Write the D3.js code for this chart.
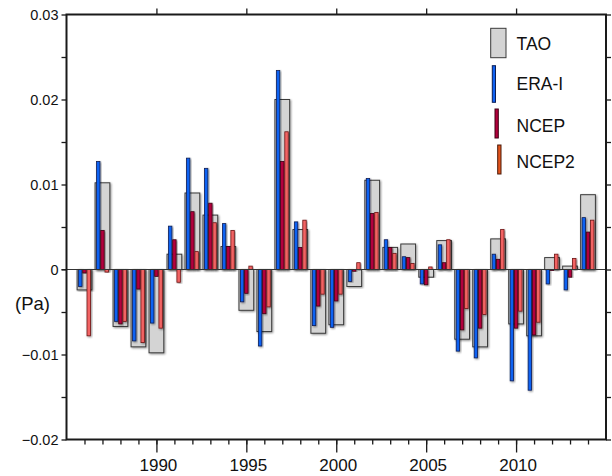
<!DOCTYPE html>
<html><head><meta charset="utf-8">
<script src="https://cdn.jsdelivr.net/npm/d3@7"></script>
<style>
html,body{margin:0;padding:0;background:#fff;}
svg{display:block;font-family:"Liberation Sans",Arial,sans-serif;}
</style></head>
<body>
<svg id="chart" width="612" height="476"></svg>
<script>
const years = d3.range(1986, 2015);
const tao   = [-0.0024,0.0102,-0.0067,-0.0091,-0.0098,0.0018,0.0090,0.0064,0.0027,-0.0048,-0.0073,0.0200,0.0047,-0.0075,-0.0065,-0.0020,0.0105,0.0026,0.0030,-0.0009,0.0034,-0.0082,-0.0091,0.0036,-0.0064,-0.0078,0.0014,0.0004,0.0088];
const erai  = [-0.0020,0.0127,-0.0061,-0.0084,-0.0063,0.0051,0.0131,0.0119,0.0054,-0.0038,-0.0090,0.0234,0.0056,-0.0066,-0.0068,-0.0014,0.0107,0.0035,0.0015,-0.0017,0.0029,-0.0096,-0.0104,0.0018,-0.0131,-0.0142,-0.0017,-0.0024,0.0061];
const ncep  = [-0.0004,0.0046,-0.0064,-0.0023,-0.0008,0.0035,0.0068,0.0078,0.0027,-0.0028,-0.0052,0.0127,0.0026,-0.0043,-0.0037,-0.0002,0.0066,0.0026,0.0014,-0.0018,0.0008,-0.0071,-0.0069,0.0012,-0.0069,-0.0077,-0.0001,-0.0009,0.0044];
const ncep2 = [-0.0078,-0.0003,-0.0061,-0.0086,-0.0069,-0.0015,0.0021,0.0055,0.0046,0.0004,-0.0044,0.0162,0.0058,-0.0029,-0.0029,0.0008,0.0067,0.0019,0.0007,0.0003,0.0035,-0.0046,-0.0053,0.0047,-0.0049,-0.0062,0.0018,0.0013,0.0058];
const xMajorTicks = [1990, 1995, 2000, 2005, 2010];
const yLabelTicks = [-0.02, -0.01, 0, 0.01, 0.02, 0.03];
const legendLabels = ["TAO", "ERA-I", "NCEP", "NCEP2"];

const svg = d3.select("#chart");
const L = 66.5, R = 606, T = 14.5, B = 439.5;
const x = d3.scaleLinear().domain([1985, 2015]).range([L, R]);
const y = d3.scaleLinear().domain([-0.02, 0.03]).range([B, T]);

const defs = svg.append("defs");
const f = defs.append("filter").attr("id","sh").attr("x","-50%").attr("y","-10%").attr("width","200%").attr("height","120%");
f.append("feGaussianBlur").attr("in","SourceAlpha").attr("stdDeviation",0.9).attr("result","b");
f.append("feOffset").attr("in","b").attr("dx",0.8).attr("dy",0.8).attr("result","o");
f.append("feComponentTransfer").attr("in","o").attr("result","o2").append("feFuncA").attr("type","linear").attr("slope",0.45);
const m = f.append("feMerge"); m.append("feMergeNode").attr("in","o2"); m.append("feMergeNode").attr("in","SourceGraphic");

function barRect(g, vals, off, w, fill, stroke, sw){
  g.selectAll(null).data(years.map((yr,i)=>({yr, v:vals[i]}))).enter().append("rect")
    .attr("x", d => x(d.yr + off - w/2))
    .attr("width", d => x(d.yr + off + w/2) - x(d.yr + off - w/2))
    .attr("y", d => y(Math.max(0, d.v)))
    .attr("height", d => Math.abs(y(d.v) - y(0)))
    .attr("fill", fill).attr("stroke", stroke).attr("stroke-width", sw)
    .attr("filter","url(#sh)");
}
const bars = svg.append("g");
barRect(bars, tao, 0, 0.82, "#d4d4d4", "#3a3a3a", 1);
barRect(bars, erai, -0.235, 0.19, "#0f62f2", "#0b1d55", 0.8);
barRect(bars, ncep, 0, 0.19, "#b2003c", "#3d0012", 0.8);
barRect(bars, ncep2, 0.235, 0.19, "#f26464", "#6e1414", 0.8);

// zero line
svg.append("line").attr("x1", L-5).attr("x2", R).attr("y1", y(0)).attr("y2", y(0))
  .attr("stroke","#333").attr("stroke-width",1.2);

// axes
const axisCol = "#1a1a1a";
const gL = svg.append("g").attr("transform",`translate(${L},0)`)
  .call(d3.axisLeft(y).tickValues(d3.range(-0.02, 0.0301, 0.005)).tickSize(5)
    .tickFormat(d => yLabelTicks.some(t => Math.abs(t-d)<1e-9) ? (Math.abs(d)<1e-9 ? "0" : d3.format(".2f")(d)) : ""));
gL.selectAll("text").attr("font-size",14.5).attr("x",-8);
const gR = svg.append("g").attr("transform",`translate(${R},0)`)
  .call(d3.axisRight(y).tickValues(d3.range(-0.02, 0.0301, 0.005)).tickSize(5).tickFormat(""));
const gB = svg.append("g").attr("transform",`translate(0,${B})`)
  .call(d3.axisBottom(x).tickValues(d3.range(1986, 2015)).tickSize(5).tickFormat(""));
const gB2 = svg.append("g").attr("transform",`translate(0,${B})`)
  .call(d3.axisBottom(x).tickValues(xMajorTicks).tickSize(13).tickPadding(6).tickFormat(d3.format("d")));
gB2.selectAll("text").attr("font-size",17).attr("dx",1.5);
const gT = svg.append("g").attr("transform",`translate(0,${T})`)
  .call(d3.axisTop(x).tickValues(xMajorTicks).tickSize(6).tickFormat(""));
[gL,gR,gB,gB2,gT].forEach(g=>{
  g.select(".domain").remove();
  g.selectAll("line").attr("stroke",axisCol).attr("stroke-width",1.3);
  g.selectAll("text").attr("fill","#111").attr("font-family","'Liberation Sans',Arial,sans-serif");
});
// frame
svg.append("rect").attr("x",L).attr("y",T).attr("width",R-L).attr("height",B-T)
  .attr("fill","none").attr("stroke",axisCol).attr("stroke-width",2);

svg.append("text").attr("x",15).attr("y",310).attr("font-size",18.5).attr("fill","#111").text("(Pa)");

// legend
const lg = svg.append("g");
const legendItems = [
  {x:490.7, y:28.3, w:15.3, h:29.4, fill:"#d4d4d4", stroke:"#3a3a3a", ty:49.5},
  {x:492.3, y:65.7, w:3.2, h:36.6, fill:"#0f62f2", stroke:"#0b1d55", ty:89.5},
  {x:495.0, y:109, w:3.3, h:29, fill:"#b2003c", stroke:"#3d0012", ty:132},
  {x:497.7, y:145, w:3.3, h:29, fill:"#e4541c", stroke:"#4a1a08", ty:167.5}
];
legendItems.forEach((it,i)=>{
  lg.append("rect").attr("x",it.x).attr("y",it.y).attr("width",it.w).attr("height",it.h)
    .attr("fill",it.fill).attr("stroke",it.stroke).attr("stroke-width",1);
  lg.append("text").attr("x",516.5).attr("y",it.ty).attr("font-size",17.5).attr("fill","#111").text(legendLabels[i]);
});
</script>
</body></html>
